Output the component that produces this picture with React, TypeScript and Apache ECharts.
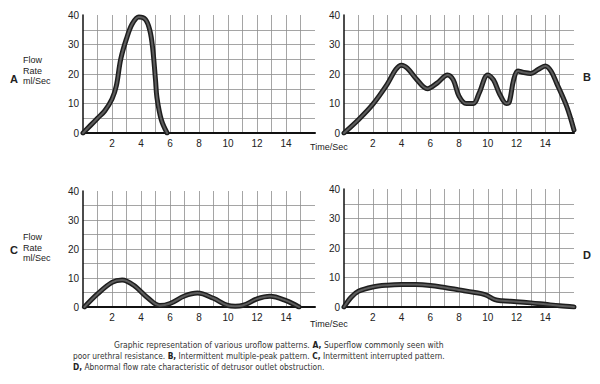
import React, { useEffect, useRef } from "react";
import * as echarts from "echarts";

// Panel A – superflow
const timeA = [0, 0.5, 1, 1.5, 2, 2.3, 2.6, 3, 3.4, 3.85, 4.3, 4.6, 4.8, 5.0, 5.1, 5.4, 5.8];
const flowA = [0, 2.5, 5, 7.5, 11.5, 16, 25, 32, 37, 39.3, 38.5, 35, 29, 18, 12, 4.5, 0];
// Panel B – intermittent multiple-peak
const timeB = [0, 1, 2, 3, 3.6, 4, 4.4, 5, 5.8, 6.5, 7.2, 7.6, 8, 8.5, 9, 9.4, 10, 10.4, 10.8, 11.3, 11.5, 11.8, 12.1, 12.5, 13, 13.5, 14, 14.4, 14.8, 15.5, 16];
const flowB = [0, 4.5, 9.7, 16.5, 21.5, 23, 22, 18.5, 15, 17, 19.7, 18, 12.5, 10, 10, 13.5, 19.7, 18, 13.5, 10, 10.5, 18, 21, 20.5, 20.2, 21.5, 22.7, 21, 16.8, 8.9, 1];
// Panel C – intermittent interrupted
const timeC = [0.1, 1, 2, 2.7, 3.5, 4.5, 5.3, 6, 7, 7.9, 9, 10, 10.5, 11, 12, 12.9, 14, 14.9];
const flowC = [0, 4.5, 8.5, 9.3, 7.5, 3, 0.5, 1.2, 3.8, 4.8, 3, 0.5, 0.3, 0.5, 2.8, 3.7, 2.2, 0];
// Panel D – obstruction
const timeD = [0, 0.5, 1, 2, 3, 4, 5, 6, 7, 8, 9, 9.8, 10.5, 11, 12, 13, 14, 15, 16];
const flowD = [0, 3.3, 5.3, 6.8, 7.4, 7.6, 7.6, 7.3, 6.6, 5.8, 5, 4.2, 2.5, 2.1, 1.8, 1.4, 0.9, 0.4, 0];

const timeTicks = [2, 4, 6, 8, 10, 12, 14];
const flowTicks = [0, 10, 20, 30, 40];

const panelLetters = ["A", "B", "C", "D"];
const yTitle = ["Flow", "Rate", "ml/Sec"];
const xTitle = "Time/Sec";
const captionLines = [
  "Graphic representation of various uroflow patterns. {b|A,} Superflow commonly seen with",
  "poor urethral resistance. {b|B,} Intermittent multiple-peak pattern. {b|C,} Intermittent interrupted pattern.",
  "{b|D,} Abnormal flow rate characteristic of detrusor outlet obstruction.",
];

const FONT = "'Liberation Sans', Arial, sans-serif";
const NARROW = "'Liberation Sans Narrow', 'DejaVu Sans Condensed', 'Liberation Sans', sans-serif";

export default function App() {
  const ref = useRef<HTMLDivElement>(null);
  useEffect(() => {
    if (!ref.current) return;
    const chart = echarts.init(ref.current, null, { renderer: "svg", width: 600, height: 384 });
    const grids = [
      { left: 83, top: 15, width: 232, height: 118 },
      { left: 344, top: 15, width: 230, height: 118 },
      { left: 83, top: 191, width: 232, height: 116 },
      { left: 344, top: 189, width: 230, height: 118 },
    ];
    const datasets = [
      [timeA, flowA],
      [timeB, flowB],
      [timeC, flowC],
      [timeD, flowD],
    ];
    const gridLine = { color: "#8e8e8e", width: 0.8 };
    const xAxis = grids.map((_, i) => ({
      type: "value",
      gridIndex: i,
      min: 0,
      max: 16,
      interval: 1,
      axisLine: { show: true, onZero: false, lineStyle: { color: "#111", width: 2 } },
      axisTick: { show: false },
      axisLabel: {
        fontSize: 10,
        color: "#222",
        margin: 5,
        fontFamily: FONT,
        formatter: (v: number) => (timeTicks.includes(v) ? String(v) : ""),
      },
      splitLine: { show: true, showMinLine: false, showMaxLine: false, lineStyle: gridLine },
    }));
    const yAxis = grids.map((_, i) => ({
      type: "value",
      gridIndex: i,
      min: 0,
      max: 40,
      interval: 5,
      axisLine: { show: true, lineStyle: { color: "#111", width: 1.5 } },
      axisTick: { show: false },
      axisLabel: {
        fontSize: 10,
        color: "#222",
        margin: 4,
        fontFamily: FONT,
        formatter: (v: number) => (flowTicks.includes(v) ? String(v) : ""),
      },
      splitLine: { show: true, showMinLine: false, showMaxLine: false, lineStyle: gridLine },
    }));
    const series: any[] = [];
    datasets.forEach(([t, f], i) => {
      const data = t.map((x, k) => [x, f[k]]);
      series.push({
        type: "line",
        xAxisIndex: i,
        yAxisIndex: i,
        data,
        smooth: 0.35,
        showSymbol: false,
        lineStyle: { color: "#1e1e1e", width: 5, cap: "round", join: "round" },
        z: 3,
      });
      series.push({
        type: "line",
        xAxisIndex: i,
        yAxisIndex: i,
        data,
        smooth: 0.35,
        showSymbol: false,
        lineStyle: { color: "#5c5c5c", width: 2, cap: "round", join: "round" },
        z: 4,
      });
    });

    const graphic: any[] = [];
    const letterPos = [
      [10, 79],
      [583, 77],
      [10, 250],
      [583, 255],
    ];
    panelLetters.forEach((L, i) => {
      graphic.push({
        type: "text",
        x: letterPos[i][0],
        y: letterPos[i][1],
        style: { text: L, fontSize: 11, fontWeight: "bold", fontFamily: FONT, fill: "#222", verticalAlign: "middle" },
      });
    });
    const yTitleTop = [60, 237];
    yTitleTop.forEach((y0) => {
      yTitle.forEach((s, k) => {
        graphic.push({
          type: "text",
          x: 23,
          y: y0 + k * 10.5,
          style: { text: s, fontSize: 9, fontFamily: FONT, fill: "#222", verticalAlign: "middle" },
        });
      });
    });
    [147, 324].forEach((y) => {
      graphic.push({
        type: "text",
        x: 310,
        y,
        style: { text: xTitle, fontSize: 9, fontFamily: FONT, fill: "#222", verticalAlign: "middle" },
      });
    });
    const capPos = [
      [114, 345, 0.895],
      [73, 356, 0.877],
      [73, 367, 0.877],
    ];
    captionLines.forEach((s, k) => {
      graphic.push({
        type: "text",
        x: capPos[k][0],
        y: capPos[k][1],
        scaleX: capPos[k][2],
        style: {
          text: s,
          fontSize: 9.5,
          fontFamily: NARROW,
          fill: "#333",
          verticalAlign: "middle",
          rich: { b: { fontWeight: "bold", fontSize: 9.5, fontFamily: NARROW, fill: "#222" } },
        },
      });
    });

    chart.setOption({
      animation: false,
      backgroundColor: "#ffffff",
      grid: grids,
      xAxis,
      yAxis,
      series,
      graphic,
    });
    return () => chart.dispose();
  }, []);
  return <div ref={ref} style={{ position: "absolute", left: 0, top: 0, width: 600, height: 384 }} />;
}
